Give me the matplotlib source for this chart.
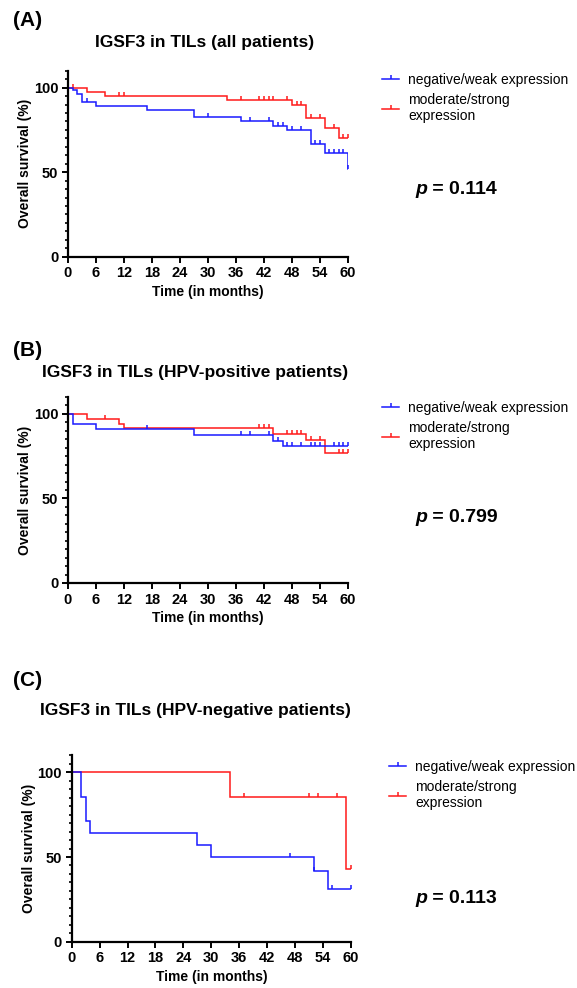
import numpy as np
import matplotlib
matplotlib.use("Agg")
import matplotlib.pyplot as plt
from matplotlib.lines import Line2D
from matplotlib.markers import TICKUP
from matplotlib.ticker import MultipleLocator

plt.rcParams['font.family'] = ['Liberation Sans', 'DejaVu Sans']

# ---- data ----
# panel A: all patients
a_neg_t = [0, 1, 2, 3, 6, 17, 27, 37, 44, 47, 52, 55, 60]
a_neg_s = [100, 98.5, 96, 91.7, 89.2, 87, 82.6, 80.2, 77.6, 75, 66.8, 61.3, 52]
a_neg_c = [4, 30, 39, 43, 45, 46, 48, 50, 53, 54, 56, 57, 58, 59, 60]
a_pos_t = [0, 4, 8, 34, 48, 51, 55, 58]
a_pos_s = [100, 97.6, 95.2, 92.7, 89.9, 81.9, 76.2, 70]
a_pos_c = [1, 11, 12, 37, 41, 42, 43, 44, 47, 49, 50, 52, 54, 57, 59, 60]

# panel B: HPV-positive
b_neg_t = [0, 1, 6, 27, 44, 46]
b_neg_s = [100, 93.9, 90.9, 87.6, 84.2, 80.8]
b_neg_c = [17, 37, 39, 43, 45, 47, 48, 50, 52, 53, 54, 57, 58, 59, 60]
b_pos_t = [0, 4, 11, 12, 44, 51, 55]
b_pos_s = [100, 97.1, 94.3, 91.4, 88.2, 84.6, 76.9]
b_pos_c = [8, 41, 42, 43, 47, 48, 49, 50, 52, 54, 58, 59, 60]

# panel C: HPV-negative
c_neg_t = [0, 2, 3, 4, 27, 30, 52, 55]
c_neg_s = [100, 85.7, 71.4, 64.3, 57.1, 50, 41.7, 31.2]
c_neg_c = [47, 52, 56, 60]
c_pos_t = [0, 34, 59]
c_pos_s = [100, 85.7, 42.9]
c_pos_c = [37, 51, 53, 57, 60]

panel_tags = ['(A)', '(B)', '(C)']
titles = ['IGSF3 in TILs (all patients)',
          'IGSF3 in TILs (HPV-positive patients)',
          'IGSF3 in TILs (HPV-negative patients)']
p_values = ['0.114', '0.799', '0.113']
group_labels = ['negative/weak expression', 'moderate/strong\nexpression']
x_ticks = list(range(0, 61, 6))

W, H = 577, 988
fig = plt.figure(figsize=(W / 100, H / 100), dpi=100)

def fx(px):
    return px / W

def fy(py):
    return 1 - py / H

BLUE = '#1a1aff'
RED = '#ff1a1a'

def km(ax, t, s, cens, color):
    tt = list(t) + [60]
    ss = list(s) + [s[-1]]
    ax.step(tt, ss, where='post', color=color, lw=1.1, solid_joinstyle='miter')
    # censored patients sit on the curve at their time
    idx = np.searchsorted(t, cens, side='right') - 1
    cy = [s[i] for i in idx]
    ax.plot(cens, cy, ls='none', marker=TICKUP, ms=3.2, mew=1.1, color=color)

# layout in pixels: axes left, right, bottom(y=0), top(y=110)
layout = [
    dict(l=68, r=348, b=256.7, t=70.8, tag_y=20, title_y=42, title_x=205,
         leg_x=382, leg_y=73, p_y=190),
    dict(l=68, r=348, b=583, t=397, tag_y=350, title_y=372, title_x=195,
         leg_x=382, leg_y=401, p_y=518),
    dict(l=71.7, r=351, b=941.7, t=755.4, tag_y=681, title_y=711, title_x=195,
         leg_x=389, leg_y=760, p_y=898),
]

data = [
    (a_neg_t, a_neg_s, a_neg_c, a_pos_t, a_pos_s, a_pos_c),
    (b_neg_t, b_neg_s, b_neg_c, b_pos_t, b_pos_s, b_pos_c),
    (c_neg_t, c_neg_s, c_neg_c, c_pos_t, c_pos_s, c_pos_c),
]

for i in range(3):
    L = layout[i]
    ax = fig.add_axes([fx(L['l']), fy(L['b']), fx(L['r'] - L['l']), (L['b'] - L['t']) / H])
    nt, ns, nc, pt, ps, pc = data[i]
    km(ax, pt, ps, pc, RED)
    km(ax, nt, ns, nc, BLUE)

    ax.set_xlim(0, 60)
    ax.set_ylim(0, 110)
    ax.set_xticks(x_ticks)
    ax.set_yticks([0, 50, 100])
    ax.yaxis.set_minor_locator(MultipleLocator(5))
    for sp in ['top', 'right']:
        ax.spines[sp].set_visible(False)
    for sp in ['left', 'bottom']:
        ax.spines[sp].set_linewidth(1.6)
    ax.tick_params(which='major', length=4, width=1.4, labelsize=10.5, pad=3)
    ax.tick_params(which='minor', length=2.5, width=1.2)
    for lab in ax.get_xticklabels() + ax.get_yticklabels():
        lab.set_fontweight('bold')
    ax.set_xlabel('Time (in months)', fontsize=10, fontweight='bold', labelpad=3)
    ax.set_ylabel('Overall survival (%)', fontsize=10, fontweight='bold', labelpad=1)

    fig.text(fx(13), fy(L['tag_y']), panel_tags[i], fontsize=15, fontweight='bold',
             ha='left', va='center')
    fig.text(fx(L['title_x']), fy(L['title_y']), titles[i], fontsize=12.5,
             fontweight='bold', ha='center', va='center')

    handles = [Line2D([], [], color=BLUE, lw=1.1, marker=TICKUP, ms=3.2, mew=1.1),
               Line2D([], [], color=RED, lw=1.1, marker=TICKUP, ms=3.2, mew=1.1)]
    ax.legend(handles, group_labels, loc='upper left',
              bbox_to_anchor=(fx(L['leg_x']), fy(L['leg_y'])),
              bbox_transform=fig.transFigure, frameon=False, fontsize=10,
              handlelength=1.25, handletextpad=0.65, borderpad=0,
              borderaxespad=0, labelspacing=0.45, numpoints=1)

    p_txt = fig.text(fx(415), fy(L['p_y']), 'p', fontsize=14, fontweight='bold',
                     style='italic', ha='left', va='center')
    ax.annotate(' = ' + p_values[i], xy=(1, 0), xycoords=p_txt, fontsize=14,
                fontweight='bold', ha='left', va='bottom', annotation_clip=False)

fig.savefig('out.png', dpi=100)
